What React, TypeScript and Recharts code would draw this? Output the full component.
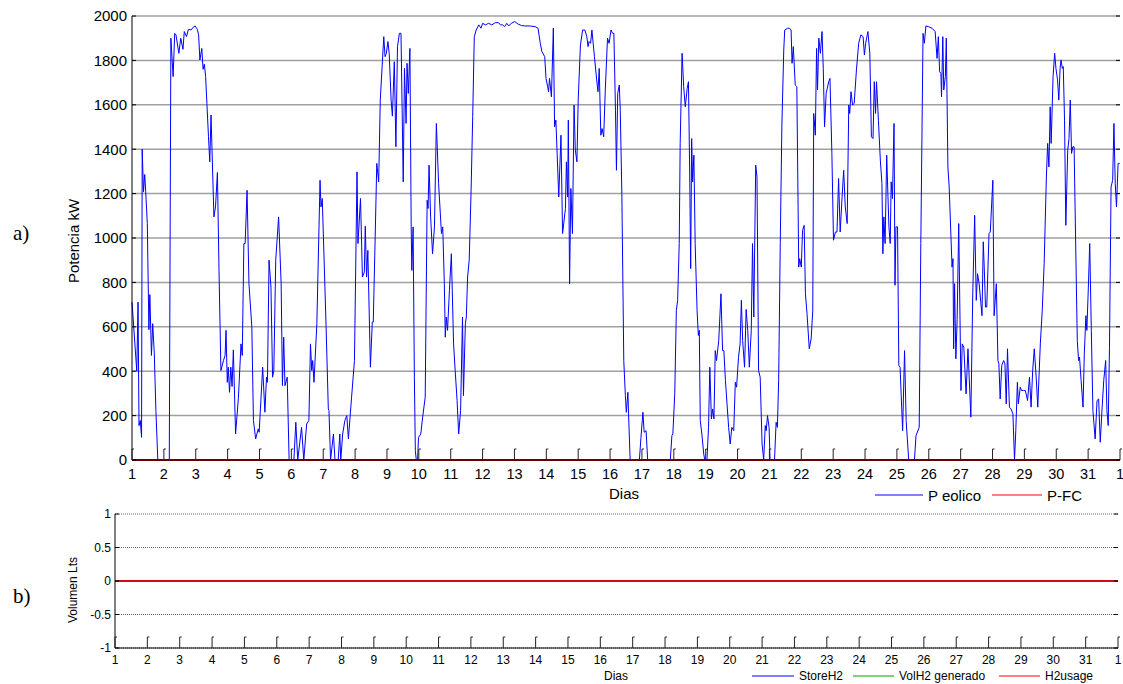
import { LineChart, Line, XAxis, YAxis, CartesianGrid } from 'recharts';

// P eolico (kW): pares [día, potencia] leídos de la figura a)
const eolicoDias1a8: [number, number][] = [
  [1.0, 711], [1.15, 400], [1.19, 711], [1.22, 155], [1.26, 178], [1.3, 102], [1.32, 1400], [1.36, 1208],
  [1.4, 1286], [1.43, 1208], [1.48, 1065], [1.53, 587], [1.56, 745], [1.61, 471], [1.65, 614], [1.7, 478],
  [1.75, 223], [1.81, 0], [2.17, 0], [2.22, 1900], [2.29, 1727], [2.34, 1922], [2.38, 1915], [2.47, 1832],
  [2.53, 1900], [2.6, 1850], [2.64, 1930], [2.71, 1907], [2.77, 1940], [2.85, 1937], [2.94, 1952], [2.98, 1955],
  [3.05, 1940], [3.09, 1915], [3.13, 1802], [3.19, 1854], [3.23, 1760], [3.27, 1783], [3.31, 1727], [3.35, 1606],
  [3.4, 1456], [3.44, 1343], [3.48, 1554], [3.57, 1095], [3.62, 1140], [3.68, 1295], [3.73, 854], [3.79, 403],
  [3.87, 448], [3.92, 471], [3.95, 584], [3.99, 350], [4.02, 418], [4.06, 305], [4.1, 418], [4.14, 331],
  [4.18, 496], [4.25, 117], [4.34, 283], [4.42, 523], [4.46, 471], [4.51, 975], [4.55, 975], [4.61, 1215],
  [4.67, 794], [4.76, 599], [4.81, 178], [4.88, 95], [4.96, 140], [4.99, 125], [5.1, 418], [5.17, 215],
  [5.22, 373], [5.25, 350], [5.3, 900], [5.36, 779], [5.41, 373], [5.45, 403], [5.51, 900], [5.6, 1095],
  [5.68, 794], [5.72, 335], [5.76, 553], [5.8, 335], [5.87, 373], [5.93, 0], [6.08, 0], [6.14, 170],
  [6.2, 0], [6.32, 147], [6.39, 0], [6.48, 162], [6.55, 178], [6.6, 523], [6.64, 403], [6.67, 448],
  [6.71, 350], [6.8, 614], [6.9, 1260], [6.93, 1140], [6.97, 1178], [7.09, 599], [7.16, 230], [7.18, 223],
  [7.23, 0], [7.32, 117], [7.37, 0], [7.47, 0], [7.52, 117], [7.55, 0], [7.61, 117], [7.68, 178],
  [7.74, 200], [7.79, 95], [7.89, 283], [7.98, 448], [8.06, 1298], [8.09, 975], [8.17, 1178], [8.23, 824],
  [8.29, 847], [8.32, 1053], [8.36, 824], [8.4, 944], [8.48, 418], [8.54, 621], [8.57, 621], [8.63, 1005],
  [8.68, 1336],
];

const eolicoDias8a16: [number, number][] = [
  [8.74, 1253], [8.79, 1621], [8.9, 1907], [8.94, 1817], [8.98, 1832], [9.03, 1885], [9.07, 1832], [9.13, 1621],
  [9.17, 1549], [9.23, 1794], [9.28, 1411], [9.33, 1862], [9.39, 1922], [9.44, 1922], [9.51, 1253], [9.55, 1764],
  [9.6, 1516], [9.63, 1787], [9.67, 1651], [9.72, 1854], [9.76, 1050], [9.78, 854], [9.82, 1050], [9.86, 373],
  [9.89, 42], [9.92, 0], [9.96, 0], [9.99, 102], [10.06, 117], [10.12, 193], [10.2, 283], [10.26, 1170],
  [10.29, 1133], [10.32, 1328], [10.37, 1095], [10.43, 929], [10.49, 1050], [10.55, 1516], [10.62, 1245], [10.71, 1020],
  [10.75, 1050], [10.8, 794], [10.83, 553], [10.86, 644], [10.9, 584], [10.96, 764], [11.02, 929], [11.09, 523],
  [11.14, 403], [11.2, 268], [11.25, 117], [11.31, 223], [11.37, 644], [11.4, 290], [11.46, 614], [11.49, 644],
  [11.53, 824], [11.58, 900], [11.64, 1215], [11.69, 1546], [11.74, 1907], [11.8, 1937], [11.88, 1960], [11.95, 1945],
  [12.0, 1967], [12.09, 1960], [12.19, 1967], [12.29, 1960], [12.4, 1970], [12.5, 1970], [12.56, 1960], [12.63, 1960],
  [12.69, 1952], [12.76, 1967], [12.82, 1955], [12.9, 1967], [13.01, 1975], [13.11, 1964], [13.22, 1957], [13.34, 1955],
  [13.5, 1955], [13.65, 1952], [13.74, 1945], [13.81, 1877], [13.86, 1840], [13.95, 1817], [13.99, 1719], [14.04, 1682],
  [14.07, 1659], [14.1, 1719], [14.16, 1636], [14.22, 1945], [14.26, 1501], [14.3, 1531], [14.39, 1185], [14.46, 1463],
  [14.51, 1020], [14.6, 1133], [14.63, 1343], [14.67, 1185], [14.69, 1531], [14.73, 794], [14.77, 1223], [14.82, 1020],
  [14.87, 1599], [14.91, 1396], [14.96, 1343], [15.0, 1621], [15.07, 1870], [15.14, 1937], [15.21, 1937], [15.27, 1907],
  [15.31, 1862], [15.34, 1885], [15.39, 1877], [15.43, 1937], [15.51, 1817], [15.58, 1712], [15.62, 1659], [15.66, 1764],
  [15.71, 1463], [15.75, 1493], [15.8, 1456], [15.85, 1667], [15.92, 1900], [15.97, 1877], [16.03, 1937], [16.08, 1922],
  [16.12, 1922], [16.17, 1576], [16.2, 1305], [16.24, 1651], [16.29, 1689], [16.32, 1576], [16.37, 1200], [16.43, 448],
];

const eolicoDias16a24: [number, number][] = [
  [16.48, 290], [16.51, 215], [16.56, 305], [16.58, 208], [16.63, 0], [16.92, 0], [16.97, 102], [17.03, 215],
  [17.07, 125], [17.13, 132], [17.18, 0], [17.89, 0], [17.94, 110], [17.97, 117], [18.03, 298], [18.08, 674],
  [18.12, 719], [18.17, 975], [18.2, 1426], [18.26, 1832], [18.31, 1682], [18.36, 1591], [18.42, 1674], [18.46, 1704],
  [18.5, 1275], [18.53, 862], [18.56, 1448], [18.59, 1253], [18.63, 1373], [18.67, 975], [18.73, 674], [18.77, 561],
  [18.8, 584], [18.83, 178], [18.88, 117], [18.94, 27], [18.97, 0], [19.04, 0], [19.09, 147], [19.13, 418],
  [19.18, 185], [19.22, 230], [19.26, 185], [19.3, 493], [19.34, 448], [19.41, 538], [19.48, 749], [19.53, 493],
  [19.57, 493], [19.62, 358], [19.67, 253], [19.72, 147], [19.77, 72], [19.82, 147], [19.88, 132], [19.93, 350],
  [19.97, 328], [20.03, 463], [20.08, 523], [20.12, 719], [20.16, 538], [20.22, 418], [20.27, 678], [20.32, 584],
  [20.37, 418], [20.43, 584], [20.47, 975], [20.51, 644], [20.57, 1328], [20.61, 1275], [20.66, 403], [20.71, 373],
  [20.77, 72], [20.82, 0], [20.87, 155], [20.9, 132], [20.94, 200], [20.99, 147], [21.02, 0], [21.16, 0],
  [21.21, 170], [21.25, 147], [21.29, 358], [21.34, 975], [21.39, 1501], [21.45, 1847], [21.48, 1937], [21.57, 1945],
  [21.63, 1945], [21.68, 1937], [21.71, 1787], [21.75, 1862], [21.81, 1689], [21.86, 1682], [21.92, 869], [21.95, 907],
  [22.0, 869], [22.04, 1035], [22.09, 1057], [22.13, 749], [22.18, 659], [22.25, 501], [22.31, 546], [22.36, 674],
  [22.39, 1561], [22.44, 1463], [22.48, 1854], [22.51, 1667], [22.55, 1900], [22.6, 1832], [22.65, 1930], [22.69, 1764],
  [22.73, 1501], [22.78, 1651], [22.86, 1704], [22.9, 1719], [22.96, 1381], [23.01, 990], [23.07, 1027], [23.12, 1027],
  [23.17, 1268], [23.22, 1027], [23.28, 1185], [23.33, 1305], [23.38, 1140], [23.44, 1065], [23.49, 1599], [23.52, 1561],
  [23.56, 1659], [23.61, 1599], [23.66, 1606], [23.73, 1757], [23.8, 1877], [23.87, 1915], [23.94, 1907], [23.98, 1824],
  [24.02, 1877], [24.09, 1930], [24.15, 1832], [24.2, 1456],
];

const eolicoDias24a32: [number, number][] = [
  [24.25, 1448], [24.29, 1704], [24.33, 1561], [24.36, 1704], [24.42, 1531], [24.48, 1351], [24.53, 1245], [24.56, 929],
  [24.59, 1095], [24.63, 975], [24.68, 1373], [24.72, 1185], [24.75, 1050], [24.79, 975], [24.82, 1253], [24.86, 1178],
  [24.91, 1516], [24.94, 787], [24.97, 1050], [25.02, 1050], [25.06, 426], [25.1, 418], [25.18, 132], [25.24, 493],
  [25.29, 178], [25.37, 0], [25.55, 0], [25.6, 110], [25.7, 147], [25.75, 975], [25.82, 1922], [25.86, 1877],
  [25.91, 1955], [25.99, 1952], [26.1, 1945], [26.2, 1930], [26.26, 1809], [26.3, 1907], [26.34, 1749], [26.38, 1742],
  [26.4, 1636], [26.44, 1907], [26.47, 1667], [26.52, 1727], [26.55, 1900], [26.6, 1320], [26.64, 1230], [26.73, 869],
  [26.76, 907], [26.78, 501], [26.81, 794], [26.85, 456], [26.89, 632], [26.94, 1065], [27.01, 313], [27.05, 523],
  [27.1, 508], [27.17, 298], [27.23, 501], [27.32, 193], [27.38, 749], [27.44, 1102], [27.49, 719], [27.53, 839],
  [27.58, 794], [27.67, 650], [27.71, 983], [27.74, 869], [27.78, 689], [27.82, 689], [27.89, 1020], [27.93, 1027],
  [28.01, 1260], [28.05, 650], [28.12, 794], [28.17, 448], [28.2, 433], [28.24, 275], [28.29, 426], [28.35, 448],
  [28.39, 433], [28.43, 253], [28.47, 501], [28.53, 238], [28.58, 230], [28.64, 208], [28.69, 0], [28.73, 132],
  [28.78, 350], [28.81, 253], [28.87, 328], [28.91, 313], [28.97, 313], [29.03, 313], [29.1, 268], [29.16, 373],
  [29.21, 238], [29.26, 403], [29.31, 501], [29.37, 373], [29.42, 238], [29.5, 523], [29.56, 674], [29.62, 884],
  [29.69, 1275], [29.73, 1426], [29.77, 1320], [29.81, 1591], [29.84, 1426], [29.9, 1727], [29.95, 1832], [29.99, 1764],
  [30.04, 1712], [30.08, 1621], [30.12, 1764], [30.15, 1802], [30.19, 1764], [30.22, 1772], [30.26, 1531], [30.3, 1057],
  [30.36, 1396], [30.4, 1448], [30.44, 1621], [30.48, 1381], [30.52, 1411], [30.56, 1411], [30.61, 968], [30.66, 538],
  [30.7, 448], [30.73, 463], [30.78, 358], [30.84, 238], [30.88, 478], [30.93, 650], [30.96, 584], [31.0, 749],
  [31.05, 975], [31.1, 584], [31.15, 223], [31.22, 95], [31.28, 268], [31.33, 275], [31.38, 80], [31.44, 238],
  [31.49, 358], [31.55, 448], [31.59, 223], [31.63, 155], [31.67, 508], [31.72, 1230], [31.77, 1260], [31.81, 1516],
  [31.85, 1245], [31.89, 1140], [31.94, 1336], [31.99, 1336],
];

// P-FC: nula todo el mes
const pFcDias = [1, 32];
const pFcKw = [0, 0];

// figura b): volúmenes de H2 (todos nulos)
const volumenDias = [1, 32];
const storeH2 = [0, 0];
const volH2Generado = [0, 0];
const h2Usage = [0, 0];

const diasTicks = [1, 2, 3, 4, 5, 6, 7, 8, 9, 10, 11, 12, 13, 14, 15, 16, 17, 18, 19, 20, 21, 22, 23, 24, 25, 26, 27, 28, 29, 30, 31, 32];
const potenciaTicks = [0, 200, 400, 600, 800, 1000, 1200, 1400, 1600, 1800, 2000];
const volumenTicks = [-1, -0.5, 0, 0.5, 1];

const FONT = '"Liberation Sans", Arial, Helvetica, sans-serif';
const SERIF = '"Liberation Serif", "Times New Roman", serif';

const TOP = { left: 132, right: 1120, top: 16, bottom: 460 };
const BOT = { left: 115, right: 1118, top: 14, bottom: 148 };

const eolicoData = [...eolicoDias1a8, ...eolicoDias8a16, ...eolicoDias16a24, ...eolicoDias24a32].map(([dia, kw]) => ({ dia, kw }));
const pFcData = pFcDias.map((dia, i) => ({ dia, kw: pFcKw[i] }));
const storeData = volumenDias.map((dia, i) => ({ dia, v: storeH2[i] }));
const generadoData = volumenDias.map((dia, i) => ({ dia, v: volH2Generado[i] }));
const usageData = volumenDias.map((dia, i) => ({ dia, v: h2Usage[i] }));

function diaLabel(v: number) {
  return v === 32 ? '1' : String(v);
}

function makeXTick(fontSize: number, base: number) {
  return (props: any) => {
    const { x, y, payload } = props;
    return (
      <g>
        <path d={`M${x},${y} V${y - 11} H${x + 2}`} stroke="#222" fill="none" strokeWidth={1} />
        <text x={x} y={y + base} textAnchor="middle" fontSize={fontSize} fontFamily={FONT} fill="#000">
          {diaLabel(payload.value)}
        </text>
      </g>
    );
  };
}

function makeYTick(fontSize: number, plot: { left: number; right: number }) {
  return (props: any) => {
    const { x, y, payload } = props;
    return (
      <g>
        <line x1={plot.left} x2={plot.left + 4} y1={y} y2={y} stroke="#000" />
        <line x1={plot.right - 4} x2={plot.right} y1={y} y2={y} stroke="#000" />
        <text x={x} y={y} dy="0.36em" textAnchor="end" fontSize={fontSize} fontFamily={FONT} fill="#000">
          {payload.value}
        </text>
      </g>
    );
  };
}

function GraficoPotencia() {
  return (
    <LineChart width={1123} height={500} data={eolicoData} margin={{ top: TOP.top, right: 3, bottom: 10, left: 0 }}>
      <CartesianGrid vertical={false} stroke="#a0a0a0" strokeWidth={1.5} />
      <XAxis
        type="number"
        dataKey="dia"
        domain={[1, 32]}
        ticks={diasTicks}
        interval={0}
        height={30}
        tickSize={0}
        tickMargin={0}
        tickLine={false}
        axisLine={{ stroke: '#000' }}
        tick={makeXTick(14.5, 19)}
      />
      <YAxis
        type="number"
        domain={[0, 2000]}
        ticks={potenciaTicks}
        interval={0}
        width={TOP.left}
        tickSize={0}
        tickMargin={5}
        tickLine={false}
        axisLine={{ stroke: '#000' }}
        tick={makeYTick(15, TOP)}
      />
      <Line data={eolicoData} dataKey="kw" type="linear" stroke="#0000ff" strokeWidth={1} dot={false} isAnimationActive={false} />
      <Line data={pFcData} dataKey="kw" type="linear" stroke="#d40000" strokeWidth={2} dot={false} isAnimationActive={false} />
    </LineChart>
  );
}

function GraficoVolumen() {
  return (
    <LineChart width={1123} height={184} data={storeData} margin={{ top: BOT.top, right: 5, bottom: 6, left: 0 }}>
      <CartesianGrid vertical={false} stroke="#666" strokeDasharray="1 1" strokeWidth={1} />
      <XAxis
        type="number"
        dataKey="dia"
        domain={[1, 32]}
        ticks={diasTicks}
        interval={0}
        height={30}
        tickSize={0}
        tickMargin={0}
        tickLine={false}
        axisLine={{ stroke: '#000' }}
        tick={makeXTick(12, 16)}
      />
      <YAxis
        type="number"
        domain={[-1, 1]}
        ticks={volumenTicks}
        interval={0}
        width={BOT.left}
        tickSize={0}
        tickMargin={4}
        tickLine={false}
        axisLine={{ stroke: '#000' }}
        tick={makeYTick(12, BOT)}
      />
      <Line data={storeData} dataKey="v" type="linear" stroke="#0000ff" strokeWidth={1} dot={false} isAnimationActive={false} />
      <Line data={generadoData} dataKey="v" type="linear" stroke="#00a000" strokeWidth={1} dot={false} isAnimationActive={false} />
      <Line data={usageData} dataKey="v" type="linear" stroke="#c81010" strokeWidth={2} dot={false} isAnimationActive={false} />
    </LineChart>
  );
}

export default function App() {
  return (
    <div style={{ position: 'absolute', left: 0, top: 0, width: 1123, height: 684, background: '#fff', overflow: 'hidden' }}>
      <div style={{ position: 'absolute', left: 0, top: 0 }}>
        <GraficoPotencia />
      </div>
      <div style={{ position: 'absolute', left: 0, top: 500 }}>
        <GraficoVolumen />
      </div>
      <svg width={1123} height={684} style={{ position: 'absolute', left: 0, top: 0, pointerEvents: 'none' }}>
        <text x={13} y={240} fontFamily={SERIF} fontSize={21} fill="#000">a)</text>
        <text x={13} y={603} fontFamily={SERIF} fontSize={21} fill="#000">b)</text>

        <text x={79} y={241} transform="rotate(-90 79 241)" textAnchor="middle" fontFamily={FONT} fontSize={15} fill="#000">Potencia kW</text>
        <text x={77} y={590} transform="rotate(-90 77 590)" textAnchor="middle" fontFamily={FONT} fontSize={12} fill="#000">Volumen Lts</text>

        <text x={624} y={499} textAnchor="middle" fontFamily={FONT} fontSize={15} fill="#000">Dias</text>
        <text x={616} y={680} textAnchor="middle" fontFamily={FONT} fontSize={12} fill="#000">Dias</text>

        <line x1={875} x2={923} y1={495} y2={495} stroke="#0000ff" strokeWidth={1} />
        <text x={928} y={501} fontFamily={FONT} fontSize={15} fill="#000">P eolico</text>
        <line x1={992} x2={1042} y1={495} y2={495} stroke="#ff0000" strokeWidth={1} />
        <text x={1047} y={501} fontFamily={FONT} fontSize={15} fill="#000">P-FC</text>

        <line x1={752} x2={794} y1={676} y2={676} stroke="#0000ff" strokeWidth={1} />
        <text x={799} y={680} fontFamily={FONT} fontSize={12} fill="#000">StoreH2</text>
        <line x1={853} x2={894} y1={676} y2={676} stroke="#00a000" strokeWidth={1} />
        <text x={899} y={680} fontFamily={FONT} fontSize={12} fill="#000">VolH2 generado</text>
        <line x1={999} x2={1040} y1={676} y2={676} stroke="#ff0000" strokeWidth={1} />
        <text x={1045} y={680} fontFamily={FONT} fontSize={12} fill="#000">H2usage</text>
      </svg>
    </div>
  );
}
